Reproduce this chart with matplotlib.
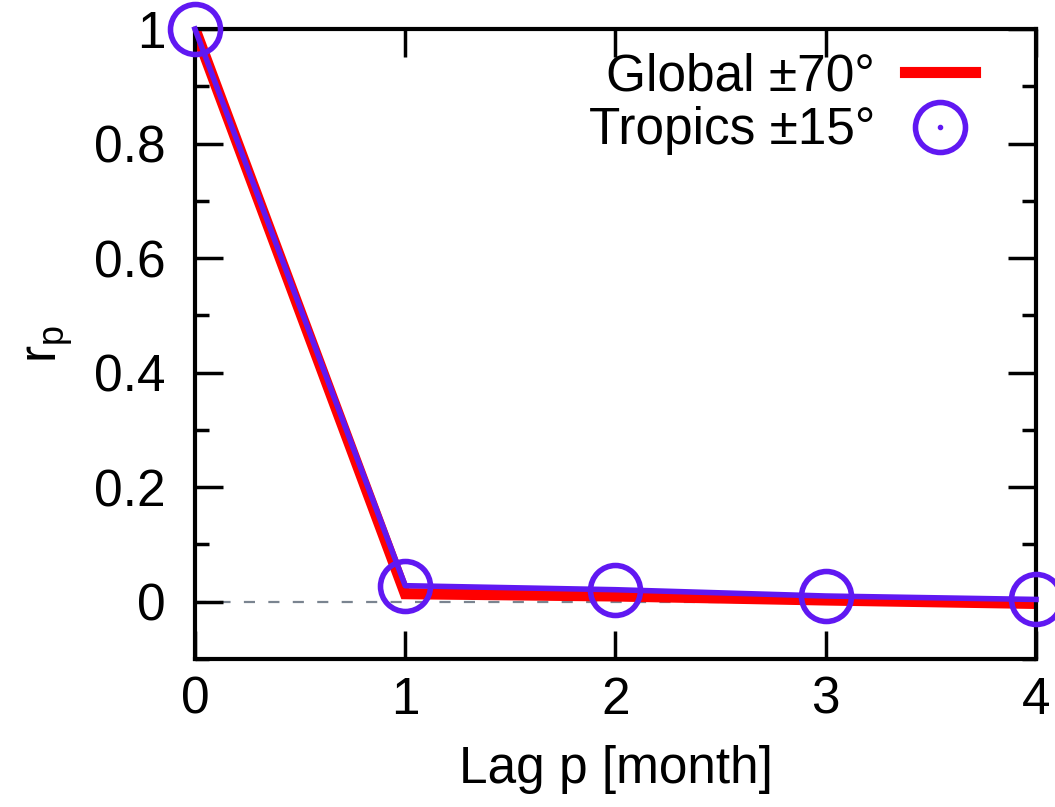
import numpy as np
import matplotlib.pyplot as plt
from matplotlib.lines import Line2D
from matplotlib.ticker import MultipleLocator

plt.rcParams['font.family'] = ['Liberation Sans', 'DejaVu Sans']

lag = [0, 1, 2, 3, 4]
r_global = [1.0, 0.014, 0.010, 0.003, -0.003]
r_tropics = [1.0, 0.028, 0.021, 0.010, 0.004]

red = '#ff0000'
violet = '#6018f2'
fs = 37

fig = plt.figure(figsize=(10.55, 8.07), dpi=100)
ax = fig.add_axes([0.1848, 0.1834, 0.7972, 0.7806])

ax.axhline(0, color='#7a8490', lw=1.6, ls=(0, (5, 6)), zorder=1)
ax.plot(lag, r_global, color=red, lw=8, solid_joinstyle='miter', zorder=2)
ax.plot(lag, r_tropics, color=violet, lw=4, marker='o', ms=36, mfc='none',
        mec=violet, mew=4, zorder=3, clip_on=False)

ax.set_xlim(0, 4)
ax.set_ylim(-0.1, 1.0)
ax.xaxis.set_major_locator(MultipleLocator(1))
ax.yaxis.set_minor_locator(MultipleLocator(0.1))
ax.set_yticks([0, 0.2, 0.4, 0.6, 0.8, 1.0])
ax.set_yticklabels(['0', '0.2', '0.4', '0.6', '0.8', '1'])

ax.tick_params(which='both', direction='in', top=True, right=True,
               width=2.5, labelsize=fs)
ax.tick_params(which='major', length=20)
ax.tick_params(axis='y', which='major', pad=21)
ax.tick_params(axis='x', which='major', pad=12)
ax.tick_params(which='minor', length=10)
for s in ax.spines.values():
    s.set_linewidth(3)

ax.set_xlabel('Lag p [month]', fontsize=fs, labelpad=15)
ax.set_ylabel(r'r$_\mathregular{p}$', fontsize=fs, labelpad=14)

h_global = Line2D([], [], color=red, lw=8)
h_tropics = (Line2D([], [], ls='none', marker='o', ms=36, mfc='none', mec=violet, mew=4),
             Line2D([], [], ls='none', marker='o', ms=3, color=violet))
ax.legend([h_global, h_tropics], ['Global \u00b170\u00b0', 'Tropics \u00b115\u00b0'],
          loc='upper right', frameon=False, markerfirst=False, fontsize=fs,
          handlelength=1.36, handletextpad=0.58, labelspacing=0.1,
          borderpad=0, borderaxespad=0, bbox_to_anchor=(0.9275, 0.963))

fig.savefig('out.png', dpi=100)
